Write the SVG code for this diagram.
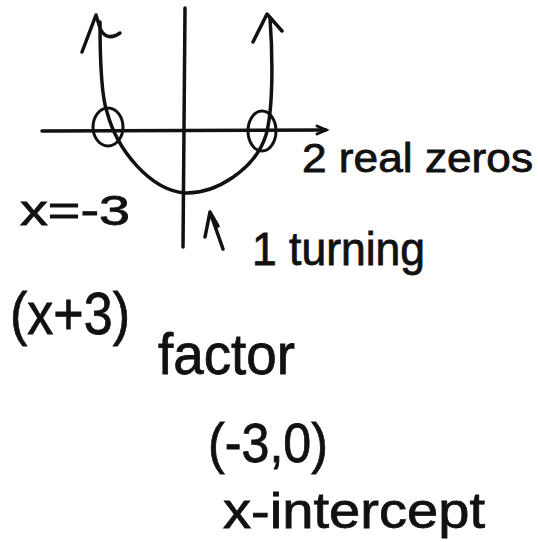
<svg xmlns="http://www.w3.org/2000/svg" width="538" height="542" viewBox="0 0 538 542">
<style>
.ink{fill:none;stroke:#111;stroke-width:3.5;stroke-linecap:round;stroke-linejoin:round}
.thin{fill:none;stroke:#111;stroke-width:3;stroke-linecap:round}
text{font-family:"Liberation Sans","DejaVu Sans",sans-serif;fill:#111;stroke:#111;stroke-width:0.8}
</style>
<rect width="538" height="542" fill="#fff"/>
<g id="axes">
<path class="ink" d="M42 131 L326 130"/>
<path class="thin" d="M317 126 L326 130 L317 134"/>
<path class="ink" d="M185 8 L183 247"/>
</g>
<g id="graph">
<path class="ink" d="M100 22 C100 60 101 95 107 112 C117 150 150 190 185 193 C215 194 255 170 266 135 C273 110 273 60 270 18"/>
<path class="ink" d="M82 52 L96 15 L100 28 C103 36 110 40 120 33"/>
<path class="ink" d="M253 42 L267 14 L282 31"/>
<ellipse class="thin" cx="108" cy="127" rx="15" ry="19"/>
<ellipse class="thin" cx="262" cy="131" rx="14" ry="20"/>
</g>
<g id="turning-arrow">
<path class="ink" d="M205 237 L210 212 L218 226 M210 212 L223 249"/>
</g>
<g id="labels">
<text x="20" y="225" font-size="42" textLength="110" lengthAdjust="spacingAndGlyphs">x=-3</text>
<text x="302" y="172" font-size="40" textLength="231" lengthAdjust="spacingAndGlyphs">2 real zeros</text>
<text x="252" y="265" font-size="46" textLength="173" lengthAdjust="spacingAndGlyphs">1 turning</text>
<text x="10" y="334" font-size="60" textLength="120" lengthAdjust="spacingAndGlyphs">(x+3)</text>
<text x="158" y="374" font-size="58" textLength="137" lengthAdjust="spacingAndGlyphs">factor</text>
<text x="208" y="462" font-size="56" textLength="120" lengthAdjust="spacingAndGlyphs">(-3,0)</text>
<text x="223" y="528" font-size="50" textLength="262" lengthAdjust="spacingAndGlyphs">x-intercept</text>
</g>
</svg>
